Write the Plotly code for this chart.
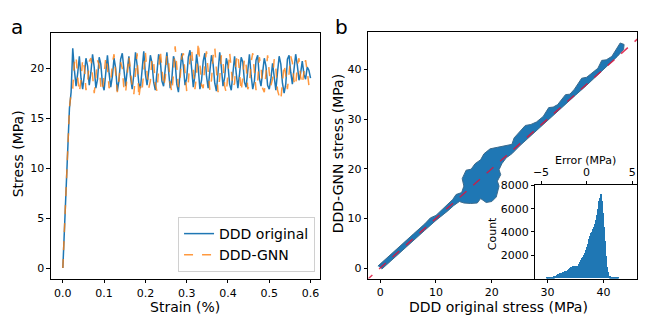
import plotly.graph_objects as go

# --- panel a: stress-strain curves ------------------------------------------
elastic_strain = [0.0, 0.008, 0.016, 0.02]
elastic_stress = [0.0, 8.0, 16.0, 17.6]

ddd_original = [
    22.0, 19.8, 18.2, 19.5, 21.2, 19.0, 17.9, 19.3, 21.0, 20.2,
    18.3, 19.6, 21.4, 20.1, 18.0, 18.9, 21.1, 20.4, 18.4, 17.8,
    19.9, 21.3, 19.5, 18.1, 19.2, 21.0, 20.0, 17.7, 18.8, 20.9,
    21.5, 19.6, 18.2, 19.8, 21.2, 19.1, 17.9, 19.4, 21.6, 20.3,
    18.5, 18.0, 20.2, 21.7, 19.4, 18.3, 19.7, 21.3, 20.5, 18.6,
    17.8, 19.6, 21.4, 20.8, 18.7, 18.2, 20.1, 21.6, 19.8, 18.0,
    18.9, 21.2, 20.6, 18.4, 17.6, 19.5, 21.5, 20.2, 18.3, 19.0,
    21.1, 21.8, 19.7, 18.1, 19.3, 21.4, 20.0, 17.9, 18.8, 20.7,
    21.5, 19.2, 18.0, 19.6, 21.3, 20.4, 18.5, 17.7, 19.9, 21.6,
    20.1, 18.2, 19.1, 21.0, 20.3, 18.4, 17.8, 19.7, 21.2, 19.5,
    18.0, 19.4, 21.1, 20.6, 18.6, 18.1, 20.0, 21.4, 19.3, 17.9,
    18.7, 20.8, 21.3, 19.0, 18.2, 19.8, 21.0, 20.2, 18.3, 17.9,
    18.9, 20.5, 19.1, 17.8, 19.6, 21.2, 20.4, 18.5, 17.5, 18.4,
    20.9, 21.3, 19.6, 18.4, 19.9, 21.4, 20.3, 18.8, 19.5, 20.7,
    19.4, 18.9, 20.1, 19.8, 19.0,
]
ddd_gnn = [
    18.0, 20.6, 21.2, 19.0, 17.6, 18.8, 20.9, 20.1, 17.8, 18.5,
    20.7, 21.0, 19.2, 17.5, 19.1, 20.8, 20.3, 18.2, 17.7, 19.6,
    21.1, 20.2, 18.0, 18.6, 20.5, 21.4, 19.3, 17.6, 18.9, 20.6,
    20.0, 17.9, 17.5, 19.8, 21.2, 19.7, 18.1, 17.4, 19.4, 21.5,
    17.0, 18.3, 17.8, 20.1, 21.6, 19.5, 18.0, 18.7, 21.0, 20.6,
    18.4, 17.7, 19.9, 21.8, 20.0, 18.2, 19.0, 21.3, 20.8, 18.5,
    17.6, 19.4, 22.2, 20.3, 18.1, 18.9, 21.1, 21.5, 19.2, 17.7,
    18.6, 20.9, 21.9, 19.6, 17.9, 19.3, 22.6, 20.5, 18.3, 18.0,
    20.4, 21.7, 19.8, 17.8, 18.8, 21.2, 22.1, 19.4, 17.6, 19.0,
    21.3, 20.7, 18.2, 17.5, 19.7, 21.6, 19.9, 18.1, 18.5, 20.8,
    21.4, 19.1, 17.7, 19.2, 21.0, 20.3, 17.9, 18.4, 20.6, 21.5,
    19.5, 17.8, 18.7, 21.1, 20.2, 18.0, 17.6, 19.8, 21.3, 19.6,
    18.3, 18.9, 20.9, 20.0, 17.8, 17.2, 16.8, 18.6, 20.4, 19.3,
    17.9, 19.5, 21.2, 20.6, 18.7, 18.2, 20.3, 21.0, 19.1, 18.4,
    19.9, 20.8, 19.7, 18.3, 18.6,
]
plastic_strain = [round(0.024 + 0.004 * i, 3) for i in range(len(ddd_original))]

# --- panel b: outline of the parity cloud (DDD original, DDD-GNN) ------------
cloud_x = [
    -0.4, 2.0, 4.0, 6.0, 8.0, 9.0, 10.0, 11.0, 12.0, 13.0, 13.6, 14.6, 15.0,
    14.7, 15.4, 16.3, 17.0, 18.0, 18.6, 19.7, 21.0, 22.5, 23.6, 24.0, 24.6,
    26.0, 27.0, 28.0, 29.2, 30.2, 31.0, 31.8, 33.2, 34.0, 34.8, 36.1, 37.0,
    38.0, 39.0, 39.7, 40.5, 41.5, 42.3, 43.0, 43.7,
    43.6, 42.5, 41.0, 39.0, 37.0, 35.0, 33.0, 31.0, 29.0, 27.0, 25.0, 23.6,
    22.6, 21.8, 21.3, 21.6, 21.0, 21.3, 20.8, 20.0, 19.0, 18.0, 17.4, 16.2,
    15.0, 14.2, 13.2, 12.0, 10.0, 8.0, 6.0, 4.0, 2.0, 0.3,
]
cloud_y = [
    0.4, 2.9, 5.0, 6.9, 8.9, 10.1, 10.6, 11.6, 12.6, 13.8, 14.8, 15.2, 16.5,
    18.0, 19.7, 19.9, 21.0, 21.8, 23.0, 24.0, 24.3, 24.6, 24.9, 26.2, 27.0,
    28.7, 28.9, 29.4, 30.5, 32.3, 32.4, 32.9, 34.9, 35.0, 36.0, 38.2, 38.4,
    39.3, 40.2, 41.8, 41.9, 42.6, 44.2, 45.3, 45.0,
    44.0, 42.6, 41.0, 38.8, 36.8, 34.8, 32.8, 30.8, 28.8, 26.7, 24.6, 23.0,
    22.2, 21.0, 19.8, 18.8, 17.5, 16.5, 14.3, 13.4, 13.2, 14.0, 13.1, 13.0,
    13.1, 13.4, 12.6, 11.4, 9.6, 7.6, 5.6, 3.6, 1.6, -0.2,
]
identity_span = [-5.0, 50.0]

# --- inset: error histogram --------------------------------------------------
error_bins = [round(-4.45 + 0.1 * i, 2) for i in range(80)]
error_counts = [
    0, 20, 40, 50, 70, 80, 100, 120, 140, 170,
    200, 230, 260, 300, 330, 370, 410, 440, 480, 520,
    560, 590, 620, 650, 690, 740, 800, 860, 930, 990,
    1040, 1060, 1030, 990, 1010, 1080, 1150, 1230, 1400, 1560,
    1700, 1850, 2000, 2200, 2400, 2650, 2900, 3150, 3400, 3650,
    3850, 4000, 4200, 4400, 4650, 5000, 5400, 5900, 6350, 6650,
    6900, 7200, 6600, 5600, 4400, 3200, 1900, 950, 500, 300,
    200, 150, 120, 100, 80, 70, 60, 40, 30, 20,
]

BLUE = "#1f77b4"
ORANGE = "#ff7f0e"
FONT = "DejaVu Sans"

# the page body adds an 8px margin, so the figure is laid out in window pixels
W, H, OFF = 640, 316, 8


def fx(p):
    return (p - OFF) / W


def fy(p):
    return 1 - (p - OFF) / H


fig = go.Figure()

fig.add_trace(go.Scatter(
    x=elastic_strain + plastic_strain, y=elastic_stress + ddd_original,
    mode="lines", line=dict(color=BLUE, width=1.5), name="DDD original",
    xaxis="x", yaxis="y",
))
fig.add_trace(go.Scatter(
    x=elastic_strain + plastic_strain, y=elastic_stress + ddd_gnn,
    mode="lines", line=dict(color=ORANGE, width=1.5, dash="dash"),
    opacity=0.8, name="DDD-GNN", xaxis="x", yaxis="y",
))

fig.add_trace(go.Scatter(
    x=cloud_x, y=cloud_y, fill="toself", fillcolor=BLUE, mode="lines",
    line=dict(color="#3b6a8c", width=1), showlegend=False,
    xaxis="x2", yaxis="y2",
))
fig.add_trace(go.Scatter(
    x=identity_span, y=identity_span, mode="lines",
    line=dict(color="rgba(220,20,60,0.85)", width=1.5, dash="dash"),
    showlegend=False, xaxis="x2", yaxis="y2",
))

fig.add_trace(go.Bar(
    x=error_bins, y=error_counts, width=0.1,
    marker=dict(color=BLUE, line=dict(width=0)),
    showlegend=False, xaxis="x3", yaxis="y3",
))

axis_common = dict(
    showline=True, linecolor="black", linewidth=1, mirror=True,
    ticks="outside", ticklen=3.5, tickcolor="black", showgrid=False,
    zeroline=False, tickfont=dict(family=FONT, size=11, color="black"),
)

fig.update_layout(
    width=W, height=H,
    margin=dict(l=0, r=0, t=0, b=0),
    paper_bgcolor="white", plot_bgcolor="white",
    font=dict(family=FONT, color="black"),
    bargap=0,
    xaxis=dict(domain=[fx(49), fx(319)], range=[-0.029, 0.623],
               tickvals=[0, 0.1, 0.2, 0.3, 0.4, 0.5, 0.6], tickformat=".1f",
               anchor="y", **axis_common),
    yaxis=dict(domain=[fy(278), fy(27)], range=[-1.08, 23.56],
               tickvals=[0, 5, 10, 15, 20], anchor="x", **axis_common),
    xaxis2=dict(domain=[fx(367.3), fx(637.3)], range=[-2.14, 46.07],
                tickvals=[0, 10, 20, 30, 40], anchor="y2", **axis_common),
    yaxis2=dict(domain=[fy(277.7), fy(26.7)], range=[-2.11, 47.44],
                tickvals=[0, 10, 20, 30, 40], anchor="x2", **axis_common),
    xaxis3=dict(domain=[fx(535), fx(637.3)], range=[-5.62, 5.57], side="top",
                tickvals=[-5, 0, 5], ticktext=["\u22125", "0", "5"],
                anchor="y3", **axis_common),
    yaxis3=dict(domain=[fy(277.7), fy(182.7)], range=[0, 8000],
                tickvals=[2000, 4000, 6000, 8000], anchor="x3", **axis_common),
    legend=dict(
        x=fx(314), y=fy(271), xanchor="right", yanchor="bottom",
        bgcolor="rgba(255,255,255,0.85)", bordercolor="#d0d0d0", borderwidth=1,
        font=dict(family=FONT, size=14, color="black"),
        tracegroupgap=0, itemwidth=30,
    ),
)


def label(text, x, y, size=14, angle=0):
    fig.add_annotation(
        text=text, x=fx(x), y=fy(y), xref="paper", yref="paper",
        showarrow=False, textangle=angle, xanchor="center", yanchor="middle",
        borderpad=0, font=dict(family=FONT, size=size, color="black"),
    )


label("a", 15, 21, size=20)
label("b", 341, 21, size=20)
label("Stress (MPa)", 16, 150, angle=-90)
label("Strain (%)", 184, 307)
label("DDD-GNN stress (MPa)", 337, 150, angle=-90)
label("DDD original stress (MPa)", 498, 307)
label("Error (MPa)", 585, 157, size=11)
label("Count", 492, 232, size=11, angle=-90)

fig.write_html("out.html")
